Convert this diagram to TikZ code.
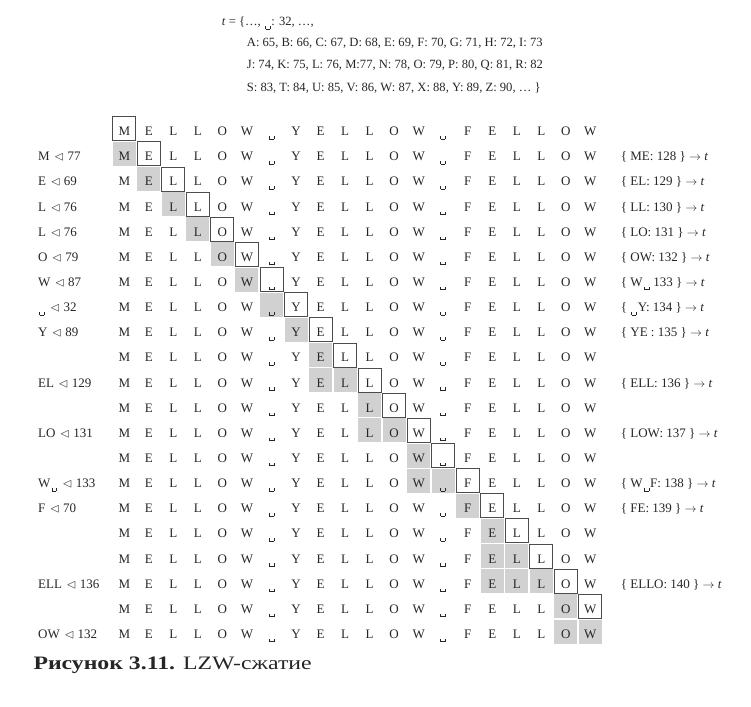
\documentclass[tikz,border=0pt]{standalone}
\usepackage{fontspec}
\setmainfont{Liberation Serif}
\newfontfamily\capfont[FakeStretch=1.25]{Liberation Serif}
\usepackage{amsmath,amssymb}
\usepackage{xcolor}
\usetikzlibrary{arrows.meta, positioning}

\newcommand{\spacemark}{\raisebox{-0.27em}{\mbox{\kern.08em\vrule height .24em width .05em\vrule height .05em width .32em\vrule height .24em width .05em\kern.08em}}}
\newcommand{\dictentry}[1]{\{ #1 \} $\rightarrow$ \textit{t}}

\begin{document}
\begin{tikzpicture}[
        x=1pt, y=-1pt,
        every node/.style={
            text=black!85,
            inner sep=0pt,
            font=\fontsize{13}{15}\selectfont
        },
        letter/.style={anchor=base},
        tag/.style={anchor=base west},
        toptag/.style={anchor=base west, font=\fontsize{12.6}{15}\selectfont},
        shadecell/.style={fill=black!18},
        framecell/.style={draw=black!70, line width=0.9pt}
    ]
        \useasboundingbox (0,0) rectangle (751,706);

        % the alphabet table
        \node[toptag] (tset) at (221.7,26) {\textit{t} = \{\dots, \spacemark: 32, \dots,};
        \node[toptag] (tline1) at (246.7,46.7) {A: 65, B: 66, C: 67, D: 68, E: 69, F: 70, G: 71, H: 72, I: 73};
        \node[toptag] (tline2) at (246.7,69) {J: 74, K: 75, L: 76, M:77, N: 78, O: 79, P: 80, Q: 81, R: 82};
        \node[toptag] (tline3) at (246.7,91.5) {S: 83, T: 84, U: 85, V: 86, W: 87, X: 88, Y: 89, Z: 90, \dots\ \}};

        % matched prefix (grey)
        \foreach \r/\s in {1/0, 2/1, 3/2, 4/3, 5/4, 6/5, 7/6, 8/7, 9/8, 10/8,
                           11/10, 12/10, 13/12, 14/12, 15/14, 16/15, 17/15, 18/15, 19/18, 20/18} {
            \pgfmathtruncatemacro{\e}{\r-1}
            \foreach \c in {\s,...,\e}
                \fill[shadecell] ({124.3+24.53*\c-11.5},{128.7+25.14*\r-12}) rectangle ++(23,24);
        }

        % current character (frame)
        \foreach \r in {0,...,19}
            \draw[framecell] ({124.3+24.53*\r-11.5},{128.7+25.14*\r-12}) rectangle ++(23,24);

        % input string
        \foreach \r in {0,...,20}
            \foreach \ch [count=\i] in {M,E,L,L,O,W,\spacemark,Y,E,L,L,O,W,\spacemark,F,E,L,L,O,W}
                \node[letter] (g-\r-\i) at ({124.3+24.53*(\i-1)},{128.7+25.14*\r+7}) {\ch};

        % output codes
        \foreach \r/\t in {1/M, 2/E, 3/L, 4/L, 5/O, 6/W, 7/\spacemark, 8/Y, 10/EL, 12/LO,
                           14/W\spacemark, 15/F, 18/ELL, 20/OW} {
            \node[tag] (out-\r) at (38,{128.7+25.14*\r+7}) {\t};
        }
        \foreach \r/\n in {1/77, 2/69, 3/76, 4/76, 5/79, 6/87, 7/32, 8/89, 10/129, 12/131,
                           14/133, 15/70, 18/136, 20/132} {
            \node[tag] (code-\r) at ([xshift=4pt]out-\r.base east) {$\lhd$ \n};
        }

        % new dictionary entries
        \node[tag] (dict-1) at (620.7,{128.7+25.14*1+7}) {\dictentry{ME: 128}};
        \node[tag] (dict-2) at (620.7,{128.7+25.14*2+7}) {\dictentry{EL: 129}};
        \node[tag] (dict-3) at (620.7,{128.7+25.14*3+7}) {\dictentry{LL: 130}};
        \node[tag] (dict-4) at (620.7,{128.7+25.14*4+7}) {\dictentry{LO: 131}};
        \node[tag] (dict-5) at (620.7,{128.7+25.14*5+7}) {\dictentry{OW: 132}};
        \node[tag] (dict-6) at (620.7,{128.7+25.14*6+7}) {\dictentry{W\spacemark\ 133}};
        \node[tag] (dict-7) at (620.7,{128.7+25.14*7+7}) {\dictentry{\spacemark Y: 134}};
        \node[tag] (dict-8) at (620.7,{128.7+25.14*8+7}) {\dictentry{YE : 135}};
        \node[tag] (dict-10) at (620.7,{128.7+25.14*10+7}) {\dictentry{ELL: 136}};
        \node[tag] (dict-12) at (620.7,{128.7+25.14*12+7}) {\dictentry{LOW: 137}};
        \node[tag] (dict-14) at (620.7,{128.7+25.14*14+7}) {\dictentry{W\spacemark F: 138}};
        \node[tag] (dict-15) at (620.7,{128.7+25.14*15+7}) {\dictentry{FE: 139}};
        \node[tag] (dict-18) at (620.7,{128.7+25.14*18+7}) {\dictentry{ELLO: 140}};

        \node[tag, font=\capfont\fontsize{19}{22}\selectfont] (caption) at (33.3,669) {\textbf{Рисунок 3.11.} LZW-сжатие};
    \end{tikzpicture}
\end{document}
